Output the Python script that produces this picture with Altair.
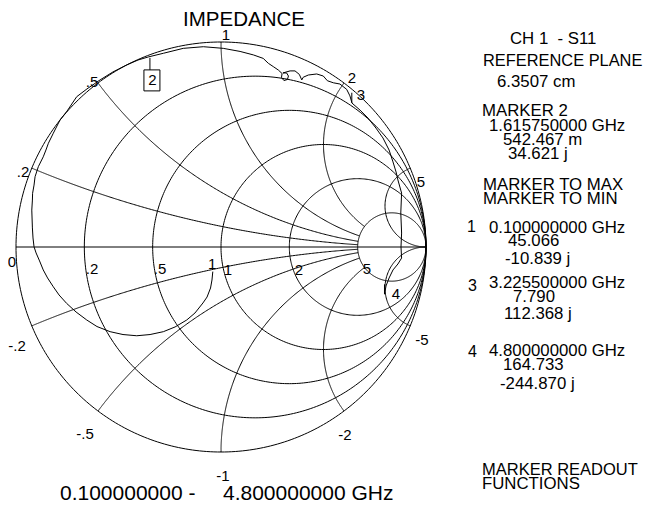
import altair as alt
import numpy as np
import pandas as pd

# ---------------- data ----------------
# S11 trace, reflection coefficient (real, imaginary), 0.1 GHz -> 4.8 GHz
trace_re = [-0.040, -0.044, -0.051, -0.068, -0.088, -0.127, -0.167, -0.224, -0.281, -0.346,
            -0.411, -0.478, -0.541, -0.605, -0.655, -0.707, -0.753, -0.790, -0.818, -0.846,
            -0.867, -0.885, -0.902, -0.912, -0.917, -0.920, -0.923, -0.920, -0.919, -0.912,
            -0.907, -0.891, -0.867, -0.854, -0.842, -0.818, -0.785, -0.751, -0.704, -0.654,
            -0.590, -0.527, -0.460, -0.405, -0.355, -0.281, -0.184, -0.086, 0.011, 0.093,
            0.158, 0.206, 0.231, 0.255, 0.280, 0.298, 0.295, 0.307, 0.324, 0.329,
            0.320, 0.302, 0.337, 0.361, 0.382, 0.394, 0.401, 0.426, 0.467, 0.499,
            0.519, 0.548, 0.580, 0.613, 0.629, 0.639, 0.678, 0.717, 0.756, 0.790,
            0.820, 0.839, 0.854, 0.863, 0.881, 0.877, 0.881, 0.878, 0.881, 0.863,
            0.839, 0.820, 0.805, 0.798]
trace_im = [-0.120, -0.161, -0.200, -0.244, -0.273, -0.322, -0.356, -0.390, -0.413, -0.427,
            -0.433, -0.427, -0.413, -0.388, -0.356, -0.317, -0.275, -0.234, -0.194, -0.151,
            -0.112, -0.068, -0.029, 0.001, 0.044, 0.093, 0.180, 0.229, 0.262, 0.302,
            0.343, 0.392, 0.440, 0.473, 0.506, 0.555, 0.620, 0.663, 0.733, 0.771,
            0.815, 0.854, 0.888, 0.912, 0.927, 0.945, 0.969, 0.977, 0.969, 0.954,
            0.937, 0.920, 0.896, 0.880, 0.863, 0.846, 0.827, 0.812, 0.817, 0.834,
            0.849, 0.849, 0.859, 0.859, 0.842, 0.815, 0.828, 0.839, 0.844, 0.834,
            0.811, 0.801, 0.795, 0.769, 0.737, 0.702, 0.668, 0.629, 0.580, 0.532,
            0.473, 0.415, 0.366, 0.327, 0.263, 0.166, 0.068, 0.000, -0.054, -0.083,
            -0.112, -0.151, -0.190, -0.229]

# markers: impedance readouts (ohms), reference 50 ohm
marker_ids = ["1", "2", "3", "4"]
marker_real_ohm = [45.066, 0.542467, 7.790, 164.733]
marker_imag_ohm = [-10.839, 34.621, 112.368, -244.870]
z0 = 50.0

# Smith grid values
grid_r = [0.2, 0.5, 1, 2, 5]
grid_x = [0.2, 0.5, 1, 2, 5]
r_labels = ["0", ".2", ".5", "1", "2", "5"]
xpos_labels = [".2", ".5", "1", "2", "5"]
xneg_labels = ["-.2", "-.5", "-1", "-2", "-5"]

title_text = "IMPEDANCE"
span_start = "0.100000000 -"
span_stop = "4.800000000 GHz"

readout_lines = ["CH 1\u00a0 - S11", "REFERENCE PLANE", "6.3507 cm",
                 "MARKER 2", "1.615750000 GHz", "542.467 m", "34.621 j",
                 "MARKER TO MAX", "MARKER TO MIN",
                 "0.100000000 GHz", "45.066", "-10.839 j",
                 "3.225500000 GHz", "7.790", "112.368 j",
                 "4.800000000 GHz", "164.733", "-244.870 j",
                 "MARKER READOUT", "FUNCTIONS"]
readout_numbers = ["1", "3", "4"]

# ---------------- layout (page pixels) ----------------
CX, CY, RAD = 221.0, 247.0, 205.0
W, H = 638, 511


def gx(px):
    return (px - CX) / RAD


def gy(py):
    return (CY - py) / RAD


readout_x = [510, 483, 497, 482, 489, 503, 508, 483, 483, 489, 508, 505,
             489, 513, 504, 489, 503, 500, 482, 482]
readout_y = [44, 66, 86.5, 116, 130.5, 144.5, 159, 190, 204, 232.5, 246, 263.5,
             288, 301.5, 319, 356, 370, 389, 474.5, 488.5]
readout_fs = [16.8, 16.4, 16.8, 16.8, 16.8, 16.8, 16.8, 16.8, 16.8, 16.8, 16.8, 16.8,
              16.8, 16.8, 16.8, 16.8, 16.8, 16.8, 16.5, 16.8]
readnum_x = [467, 468, 468]
readnum_y = [232, 291, 357]

r_lab_xy = [(12, 262), (92, 269), (160, 269), (228, 270), (299, 270), (367, 269)]
xpos_lab_xy = [(23, 172), (92, 82), (226, 35), (352, 78), (421, 182)]
xneg_lab_xy = [(17, 346), (85, 434), (223, 476), (345, 435), (422, 340)]

# ---------------- build grid geometry ----------------
rows = []


def add(cid, xs, ys):
    for k, (a, b) in enumerate(zip(xs, ys)):
        rows.append({"id": cid, "k": k, "gr": float(a), "gi": float(b)})


th = np.linspace(0, 2 * np.pi, 361)
add("outer", np.cos(th), np.sin(th))
add("axis", [-1, 1], [0, 0])
for r in grid_r:
    c = r / (1 + r)
    rr = 1 / (1 + r)
    add(f"r{r}", c + rr * np.cos(th), rr * np.sin(th))
for x in grid_x:
    rmax = 5.0 if x < 5 else 1e6
    rs = np.concatenate([[0.0], np.geomspace(1e-3, rmax, 500)])
    for sgn in (1, -1):
        z = rs + 1j * sgn * x
        g = (z - 1) / (z + 1)
        add(f"x{sgn * x}", g.real, g.imag)

# markers in gamma plane
mk = []
for mid, re, im in zip(marker_ids, marker_real_ohm, marker_imag_ohm):
    z = complex(re, im) / z0
    g = (z - 1) / (z + 1)
    mk.append((g.real, g.imag))

# marker flags (ticks and box), offsets in pixels
m2 = mk[1]
add("m2tick", [m2[0], m2[0]], [m2[1], m2[1] - 12 / RAD])
bx0, by0 = m2[0] - 6 / RAD, m2[1] - 12 / RAD
add("m2box", [bx0, bx0 + 16 / RAD, bx0 + 16 / RAD, bx0, bx0],
    [by0, by0, by0 - 21 / RAD, by0 - 21 / RAD, by0])
m3 = mk[2]
add("m3tick", [m3[0], m3[0]], [m3[1], m3[1] + 10 / RAD])
m4 = mk[3]
add("m4tick", [m4[0], m4[0]], [m4[1], m4[1] + 10 / RAD])

grid_df = pd.DataFrame(rows)
trace_df = pd.DataFrame({"gr": trace_re, "gi": trace_im, "k": range(len(trace_re))})

xs = alt.Scale(domain=[gx(8), gx(8 + W)], nice=False, zero=False)
ys = alt.Scale(domain=[gy(8 + H), gy(8)], nice=False, zero=False)
X = alt.X("gr:Q", scale=xs, axis=None)
Y = alt.Y("gi:Q", scale=ys, axis=None)

grid = alt.Chart(grid_df).mark_line(color="black", strokeWidth=1, clip=False).encode(
    x=X, y=Y, detail="id:N", order="k:Q")
trace = alt.Chart(trace_df).mark_line(color="black", strokeWidth=1, clip=False).encode(
    x=X, y=Y, order="k:Q")

# ---------------- texts ----------------
lab_rows = []
for t, (px, py) in zip(r_labels, r_lab_xy):
    lab_rows.append({"t": t, "gr": gx(px), "gi": gy(py), "fs": 15})
for t, (px, py) in zip(xpos_labels, xpos_lab_xy):
    lab_rows.append({"t": t, "gr": gx(px), "gi": gy(py), "fs": 15})
for t, (px, py) in zip(xneg_labels, xneg_lab_xy):
    lab_rows.append({"t": t, "gr": gx(px), "gi": gy(py), "fs": 15})
# marker labels next to the trace
mk_off = [(-1, -7), (2.5, 22.5), (9, -8), (11.5, 0)]
for mid, (g, (dx, dy)) in zip(marker_ids, zip(mk, mk_off)):
    lab_rows.append({"t": mid, "gr": g[0] + dx / RAD, "gi": g[1] - dy / RAD, "fs": 15})
lab_rows.append({"t": title_text, "gr": gx(244), "gi": gy(20), "fs": 20.5})
lab_df = pd.DataFrame(lab_rows)

left_rows = []
for t, px, py, fs in zip(readout_lines, readout_x, readout_y, readout_fs):
    left_rows.append({"t": t, "gr": gx(px), "gi": gy(py), "fs": fs})
for t, px, py in zip(readout_numbers, readnum_x, readnum_y):
    left_rows.append({"t": t, "gr": gx(px), "gi": gy(py), "fs": 16})
left_rows.append({"t": span_start, "gr": gx(60), "gi": gy(500), "fs": 21})
left_rows.append({"t": span_stop, "gr": gx(223), "gi": gy(500), "fs": 21})
left_df = pd.DataFrame(left_rows)

labels = alt.Chart(lab_df).mark_text(font="Liberation Sans", align="center",
                                       baseline="middle", color="black").encode(
    x=X, y=Y, text="t:N", size=alt.Size("fs:Q", scale=None))
texts = alt.Chart(left_df).mark_text(font="Liberation Sans", align="left",
                                      baseline="alphabetic", color="black").encode(
    x=X, y=Y, text="t:N", size=alt.Size("fs:Q", scale=None))

chart = alt.layer(grid, trace, labels, texts).properties(
    width=W, height=H, padding=0, autosize=alt.AutoSizeParams(type="none"),
    background="white").configure_view(stroke=None)

chart.save("out.html", embed_options={"renderer": "svg", "actions": False})
